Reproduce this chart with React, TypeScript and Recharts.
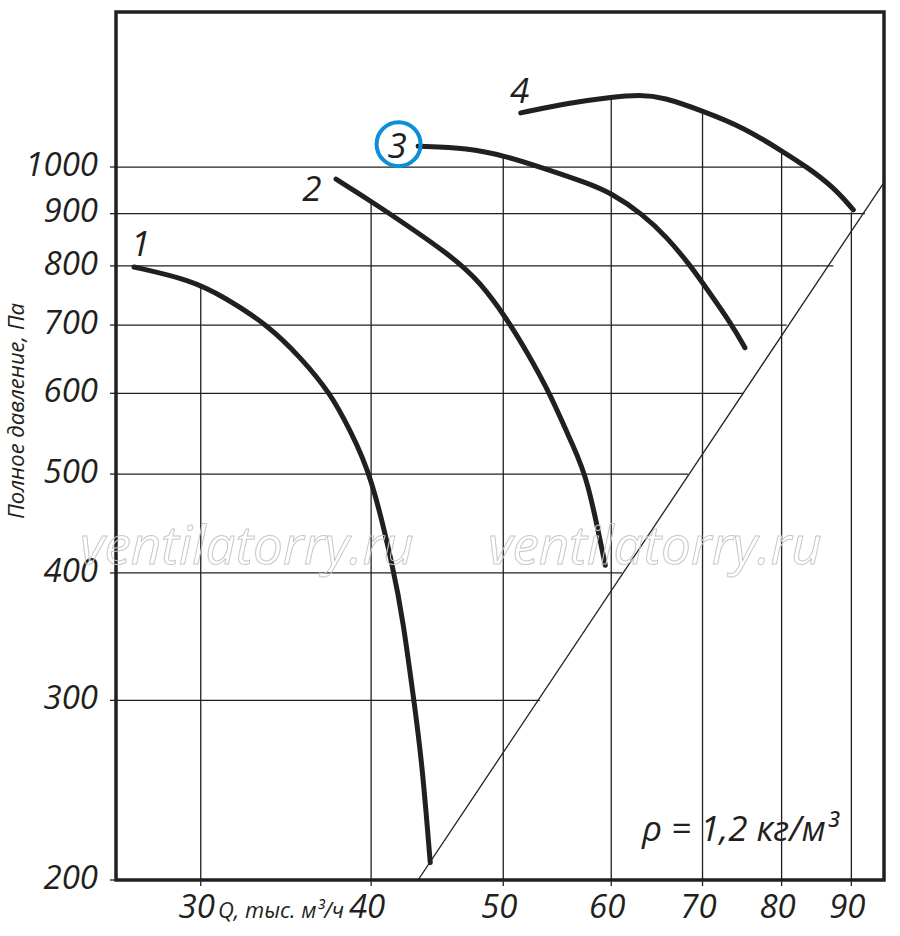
import { LineChart, Line, XAxis, YAxis, ReferenceLine, ReferenceArea, ReferenceDot } from 'recharts';

// fan curves, Q in thousand m3/h, P in Pa (log-log)
const curve1 = [
  { q: 26.8, p: 798 }, { q: 29.5, p: 775 }, { q: 31.2, p: 746 }, { q: 33.6, p: 700 },
  { q: 35.5, p: 651 }, { q: 37.35, p: 600 }, { q: 38.6, p: 552 }, { q: 40, p: 500 },
  { q: 41.6, p: 400 }, { q: 42.2, p: 360 }, { q: 43.0, p: 300 }, { q: 43.6, p: 260 },
  { q: 44.2, p: 208 },
];
const curve2 = [
  { q: 37.7, p: 973 }, { q: 40, p: 926 }, { q: 46.0, p: 816 }, { q: 48.1, p: 770 },
  { q: 50.2, p: 713 }, { q: 52.1, p: 657 }, { q: 54.1, p: 600 }, { q: 56.3, p: 531 },
  { q: 57.6, p: 497 }, { q: 59.4, p: 407 },
];
const curve3 = [
  { q: 43.3, p: 1048 }, { q: 47.1, p: 1044 }, { q: 50.2, p: 1025 }, { q: 53.2, p: 1000 },
  { q: 57.6, p: 965 }, { q: 60, p: 943 }, { q: 63.2, p: 900 }, { q: 65.9, p: 854 },
  { q: 68.6, p: 800 }, { q: 70, p: 770 }, { q: 73.6, p: 700 }, { q: 75.2, p: 665 },
];
const curve4 = [
  { q: 51.5, p: 1130 }, { q: 55.7, p: 1155 }, { q: 60, p: 1171 }, { q: 63.0, p: 1177 },
  { q: 65.5, p: 1171 }, { q: 70, p: 1135 }, { q: 75, p: 1094 }, { q: 80.3, p: 1034 },
  { q: 83.5, p: 1000 }, { q: 87.3, p: 956 }, { q: 90.3, p: 908 },
];
const systemLine = [{ q: 43.3, p: 200 }, { q: 95, p: 964 }];

const xTicks = [30, 40, 50, 60, 70, 80, 90];
const yTicks = [200, 300, 400, 500, 600, 700, 800, 900, 1000];

// grid lines stop at the curves / system line
const vGridQ = [30, 40, 50, 60, 70, 80, 90];
const vGridTop = [766, 926, 1025, 1171, 1135, 1034, 903];
const hGridP = [300, 400, 500, 600, 700, 800, 900, 1000];
const hGridEnd = [53.2, 61.1, 68.3, 75.0, 80.7, 87.3, 92.1, 83.4];

const curveLabels = [
  { name: '1', q: 27.1, p: 844 },
  { name: '2', q: 36.2, p: 954 },
  { name: '3', q: 41.8, p: 1051 },
  { name: '4', q: 51.4, p: 1190 },
];
const circledLabel = { q: 41.9, p: 1053 };

const X_DOMAIN = [26, 95.1];
const Y_DOMAIN = [200, 1419];
const INK = '#231f20';
const FONT = '"Open Sans", sans-serif';

const tickStyle = { fontSize: 33, fontStyle: 'italic', fontFamily: FONT, fill: INK };

export default function App() {
  return (
    <div style={{ position: 'absolute', left: 0, top: 0, width: 900, height: 936, background: '#fff' }}>
      <LineChart width={900} height={936} margin={{ top: 12, right: 16, bottom: 0, left: 0 }}>
        <XAxis
          dataKey="q"
          type="number"
          scale="log"
          domain={X_DOMAIN}
          ticks={xTicks}
          allowDataOverflow
          axisLine={false}
          tickSize={6}
          tickMargin={9}
          height={56}
          tickLine={{ stroke: INK, strokeWidth: 1.3 }}
          tick={{ ...tickStyle, dx: -4 }}
        />
        <YAxis
          dataKey="p"
          type="number"
          scale="log"
          domain={Y_DOMAIN}
          ticks={yTicks}
          allowDataOverflow
          axisLine={false}
          width={116}
          tickSize={6}
          tickMargin={12}
          tickLine={{ stroke: INK, strokeWidth: 1.3 }}
          tick={{ ...tickStyle, dy: -3 }}
        />
        {vGridQ.map((q, i) => (
          <ReferenceLine key={'v' + q} segment={[{ x: q, y: 200 }, { x: q, y: vGridTop[i] }]} stroke={INK} strokeWidth={1.3} />
        ))}
        {hGridP.map((p, i) => (
          <ReferenceLine key={'h' + p} segment={[{ x: X_DOMAIN[0], y: p }, { x: hGridEnd[i], y: p }]} stroke={INK} strokeWidth={1.3} />
        ))}
        <Line data={systemLine} dataKey="p" type="linear" stroke={INK} strokeWidth={1.3} dot={false} isAnimationActive={false} />
        {[curve1, curve2, curve3, curve4].map((c, i) => (
          <Line
            key={'c' + i}
            data={c}
            dataKey="p"
            type="basis"
            stroke={INK}
            strokeWidth={5}
            strokeLinecap="round"
            dot={false}
            isAnimationActive={false}
          />
        ))}
        <ReferenceArea x1={X_DOMAIN[0]} x2={X_DOMAIN[1]} y1={Y_DOMAIN[0]} y2={Y_DOMAIN[1]} fill="none" stroke={INK} strokeWidth={3.5} />
        <ReferenceDot x={circledLabel.q} y={circledLabel.p} r={22} fill="#fff" fillOpacity={0} stroke="#0a8fd8" strokeWidth={4} />
        {curveLabels.map(l => (
          <ReferenceDot
            key={'l' + l.name}
            x={l.q}
            y={l.p}
            r={0}
            shape={(props: any) => (
              <text
                x={props.cx}
                y={props.cy}
                textAnchor="middle"
                dominantBaseline="central"
                fontSize={35}
                fontStyle="italic"
                fontFamily={FONT}
                fill={INK}
              >
                {l.name}
              </text>
            )}
          />
        ))}
      </LineChart>
      <svg width={900} height={936} style={{ position: 'absolute', left: 0, top: 0, pointerEvents: 'none' }}>
        <text x={15} y={411} transform="rotate(-90 15 411)" textAnchor="middle" dominantBaseline="central" fontSize={22} fontStyle="italic" fontFamily={FONT} fill={INK}>
          Полное давление, Па
        </text>
        <text x={218} y={918} fontSize={22} fontStyle="italic" fontFamily={FONT} fill={INK}>
          Q, тыс. м³/ч
        </text>
        <text x={642} y={841} fontSize={35} fontStyle="italic" fontFamily={FONT} fill={INK}>
          ρ = 1,2 кг/м³
        </text>
        <text x={80} y={564} fontSize={53} fontStyle="italic" fontFamily={FONT} fill="none" stroke="#c8c8c8" strokeWidth={1}>
          ventilatorry.ru
        </text>
        <text x={488} y={564} fontSize={53} fontStyle="italic" fontFamily={FONT} fill="none" stroke="#c8c8c8" strokeWidth={1}>
          ventilatorry.ru
        </text>
      </svg>
    </div>
  );
}
